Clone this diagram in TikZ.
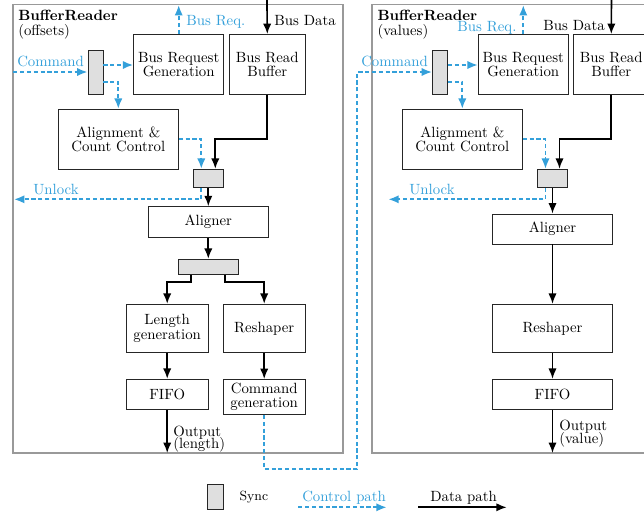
\documentclass[tikz,border=0pt]{standalone}
\usetikzlibrary{arrows.meta,calc}
\definecolor{ctrlblue}{RGB}{52,160,218}
\tikzset{
  bx/.style 2 args={draw=black!85, line width=0.65pt, minimum width=#1*0.675pt, minimum height=#2*0.675pt, inner sep=0pt, align=center, font=\fontsize{10pt}{9.6pt}\selectfont},
  syncbox/.style 2 args={bx={#1}{#2}, fill=gray!25},
  tip/.style={-{Latex[length=7pt,width=5.6pt]}},
  ctrl/.style={draw=ctrlblue, line width=1.25pt, dash pattern=on 2.8pt off 1.8pt, tip},
  data/.style={draw=black, line width=1.1pt, tip},
  panel/.style={draw=black!40, line width=1.2pt},
  lbl/.style={inner sep=0pt, anchor=base west, font=\fontsize{10pt}{9.6pt}\selectfont},
  rlbl/.style={lbl, anchor=base east},
  clbl/.style={lbl, text=ctrlblue},
  crlbl/.style={rlbl, text=ctrlblue},
}
\begin{document}
\begin{tikzpicture}[x=0.675pt,y=-0.675pt]
\useasboundingbox (0,0) rectangle (644,514);

% panels
\draw[panel] (13.3,4.5) rectangle (343,453);
\draw[panel] (700,453) -- (372.3,453) -- (372.3,4.5) -- (700,4.5);

% ---------------- left panel ----------------
\node[lbl] (tL1) at (18,20.5) {\textbf{BufferReader}};
\node[lbl] (tL2) at (18,35.5) {(offsets)};

\node[syncbox={15}{44}] (S1a) at (95.5,72) {};
\node[bx={90}{60}] (BRGa) at (178.7,64.5) {Bus Request\\Generation};
\node[bx={76}{60}] (BRBa) at (267.3,64.5) {Bus Read\\Buffer};
\node[bx={120}{60}] (ACCa) at (118.3,139.3) {Alignment \&\\Count Control};
\node[syncbox={30}{18}] (S2a) at (208.3,178.3) {};
\node[bx={120}{31}] (ALa) at (208.3,222.2) {Aligner};
\node[syncbox={60}{15}] (S3a) at (208.3,266.8) {};
\node[bx={82}{48}] (LGa) at (167.2,328.3) {Length\\generation};
\node[bx={82}{48}] (RSa) at (264.2,328.3) {Reshaper};
\node[bx={82}{30}] (FIa) at (167.2,394.3) {FIFO};
\node[bx={82}{35}] (CGa) at (264.2,397) {Command\\generation};

\coordinate (cmdInA) at (13.3,72);
\coordinate (unlockA) at (14,199.3);
\coordinate (busDataA) at (266.9,-5);
\coordinate (outA) at (167.2,453);
\coordinate (cmdA1) at ($(S1a.east)+(0,-7)$);
\coordinate (cmdA2) at ($(S1a.east)+(0,9.7)$);

\draw[ctrl] (cmdInA) -- (S1a.west);
\node[clbl] (cmdLblA) at (17,66.5) {Command};
\draw[ctrl] (cmdA1) -- (BRGa.west |- cmdA1);
\draw[ctrl] (cmdA2) -| (ACCa.north);
\draw[ctrl] (BRGa.north) -- ++(0,-29);
\node[clbl] (reqLblA) at (186,25) {Bus Req.};
\draw[data] (busDataA) -- (BRBa.north);
\node[lbl] (dataLblA) at (274,25) {Bus Data};
\draw[ctrl] (ACCa.east) -| ($(S2a.north)+(-7,0)$);
\draw[data] (BRBa.south) -- (BRBa.south |- ACCa.east) -| ($(S2a.north)+(7,0)$);
\draw[ctrl] ($(S2a.south)+(-7,0)$) |- (unlockA);
\node[clbl] (unlockLblA) at (33,194.3) {Unlock};
\draw[data] (S2a.south) -- (ALa.north);
\draw[data] (ALa.south) -- (S3a.north);
\draw[data] ($(S3a.south)+(-17.6,0)$) -- ++(0,7.4) -| (LGa.north);
\draw[data] ($(S3a.south)+(17,0)$) -- ++(0,7.4) -| (RSa.north);
\draw[data] (LGa.south) -- (FIa.north);
\draw[data] (RSa.south) -- (CGa.north);
\draw[data] (FIa.south) -- (outA);
\node[lbl] (outLblA1) at (173,436) {Output};
\node[lbl] (outLblA2) at (173,448.5) {(length)};

% ---------------- right panel ----------------
\node[lbl] (tB1) at (377.3,20.5) {\textbf{BufferReader}};
\node[lbl] (tB2) at (377.3,35.5) {(values)};

\node[syncbox={15}{44}] (S1b) at (440,72) {};
\node[bx={90}{60}] (BRGb) at (523.3,64.5) {Bus Request\\Generation};
\node[bx={76}{60}] (BRBb) at (611.3,64.5) {Bus Read\\Buffer};
\node[bx={120}{60}] (ACCb) at (462.3,139.3) {Alignment \&\\Count Control};
\node[syncbox={30}{18}] (S2b) at (552.5,178.3) {};
\node[bx={120}{30}] (ALb) at (552.5,229) {Aligner};
\node[bx={120}{48}] (RSb) at (552.5,328.3) {Reshaper};
\node[bx={120}{30}] (FIb) at (552.5,394.3) {FIFO};

\coordinate (unlockB) at (388.3,199.3);
\coordinate (busDataB) at (611.5,-5);
\coordinate (outB) at (552.5,453);
\coordinate (cmdB1) at ($(S1b.east)+(0,-7)$);
\coordinate (cmdB2) at ($(S1b.east)+(0,9.7)$);

\node[clbl] (cmdLblB) at (361,66.5) {Command};
\draw[ctrl] (cmdB1) -- (BRGb.west |- cmdB1);
\draw[ctrl] (cmdB2) -| (ACCb.north);
\draw[ctrl] (BRGb.north) -- ++(0,-29);
\node[crlbl] (reqLblB) at (516.7,31.5) {Bus Req.};
\draw[data] (busDataB) -- (BRBb.north);
\node[rlbl] (dataLblB) at (605,30) {Bus Data};
\draw[ctrl] (ACCb.east) -| ($(S2b.north)+(-7,0)$);
\draw[data] (BRBb.south) -- (BRBb.south |- ACCb.east) -| ($(S2b.north)+(7,0)$);
\draw[ctrl] ($(S2b.south)+(-7,0)$) |- (unlockB);
\node[clbl] (unlockLblB) at (409,194.3) {Unlock};
\draw[data] (S2b.south) -- (ALb.north);
\draw[data] (ALb.south) -- (RSb.north);
\draw[data] (RSb.south) -- (FIb.north);
\draw[data] (FIb.south) -- (outB);
\node[lbl] (outLblB1) at (559,430) {Output};
\node[lbl] (outLblB2) at (559,443) {(value)};

% command from left panel to right panel
\coordinate (cmdLink1) at (264.2,469);
\coordinate (cmdLink2) at (357.3,469);
\draw[ctrl] (CGa.south) -- (cmdLink1) -- (cmdLink2) |- (S1b.west);

% ---------------- legend ----------------
\node[syncbox={16}{25}] (legSync) at (215.3,496.5) {};
\node[lbl, font=\small] (legSyncLbl) at (239.3,500.7) {Sync};
\coordinate (legC1) at (298.3,507.3);
\coordinate (legC2) at (386.7,507.3);
\draw[ctrl] (legC1) -- (legC2);
\node[clbl] (legCLbl) at (302,501) {Control path};
\coordinate (legD1) at (418.3,507.3);
\coordinate (legD2) at (506.7,507.3);
\draw[data] (legD1) -- (legD2);
\node[lbl] (legDLbl) at (430,501) {Data path};
\end{tikzpicture}
\end{document}
